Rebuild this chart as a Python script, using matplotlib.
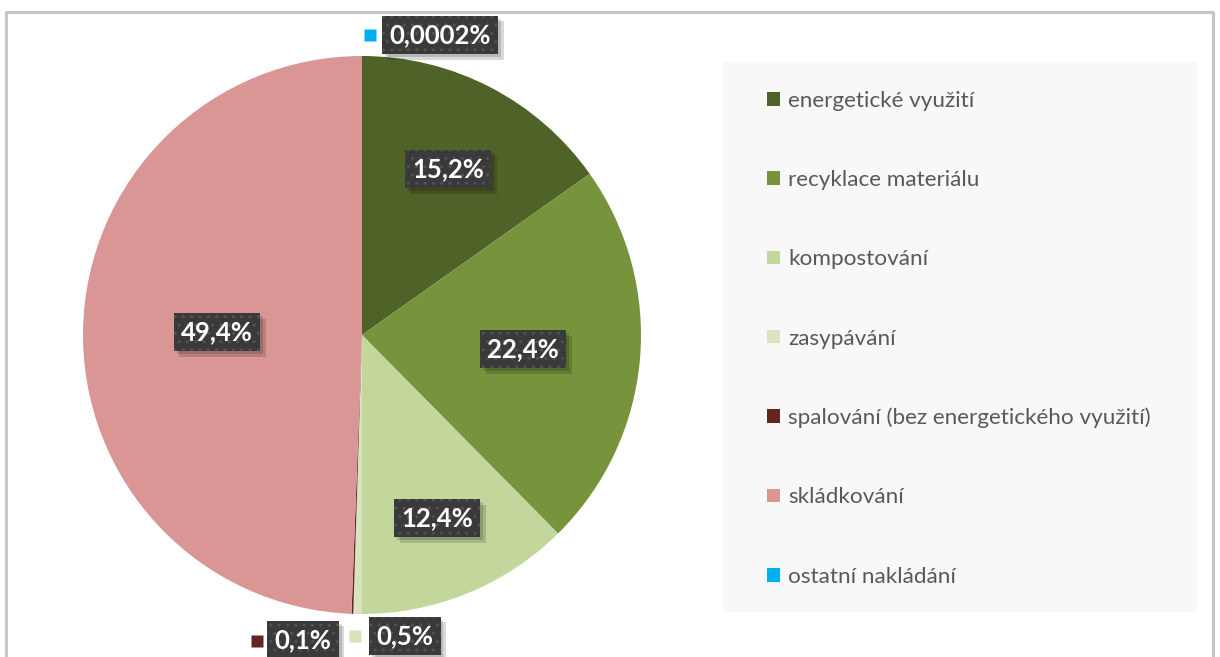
import matplotlib
matplotlib.use("Agg")
import matplotlib.pyplot as plt
from matplotlib.patches import Rectangle
from matplotlib.lines import Line2D
import matplotlib.patheffects as pe
import numpy as np

plt.rcParams['font.family'] = ['Lato', 'DejaVu Sans']

categories = ["energetické využití", "recyklace materiálu", "kompostování", "zasypávání",
              "spalování (bez energetického využití)", "skládkování", "ostatní nakládání"]
values = [15.2, 22.4, 12.4, 0.5, 0.1, 49.4, 0.0002]
value_labels = ["15,2%", "22,4%", "12,4%", "0,5%", "0,1%", "49,4%", "0,0002%"]
colors = ["#4f6228", "#77933c", "#c3d69b", "#d7e4bd", "#632523", "#d99694", "#00b0f0"]

W, H = 1220, 657
fig = plt.figure(figsize=(W / 100, H / 100), dpi=100)
fig.patch.set_facecolor("white")

# outer chart border (bottom cut off)
bc = "#c6c6c6"
fig.add_artist(Line2D([6 / W, 6 / W, 1213 / W, 1213 / W],
                      [0, 1 - 12 / H, 1 - 12 / H, 0], color=bc, lw=2.2,
                      transform=fig.transFigure))

# legend background
fig.add_artist(Rectangle((723 / W, 1 - 612 / H), 474 / W, 550 / H,
                         transform=fig.transFigure, fc="#f8f8f8", ec="none", zorder=0))

cx, cy, R = 362, 335, 279
ax = fig.add_axes([(cx - R) / W, (H - cy - R) / H, 2 * R / W, 2 * R / H])
wedges, _ = ax.pie(values, colors=colors, startangle=90, counterclock=False,
                   radius=1, wedgeprops=dict(linewidth=0))
ax.set_xlim(-1, 1)
ax.set_ylim(-1, 1)
ax.set_aspect("equal")
ax.axis("off")


class PlainShadow(pe.AbstractPathEffect):
    def __init__(self, offset=(3, -3), alpha=0.25):
        super().__init__(offset)
        self.alpha = alpha

    def draw_path(self, renderer, gc, tpath, affine, rgbFace):
        gc0 = renderer.new_gc()
        gc0.copy_properties(gc)
        gc0.set_hatch(None)
        gc0.set_linewidth(0)
        gc0.set_alpha(self.alpha)
        renderer.draw_path(gc0, tpath, affine + self._offset_transform(renderer),
                           (0, 0, 0))
        gc0.restore()


box_kw = dict(boxstyle="square,pad=0.28", fc="#3a3a3a", ec="#525252", lw=0, hatch="..")
fs = 18.5


def put_label(x, y, s):
    t = ax.text(x, y, s, ha="center", va="center", fontsize=fs, fontweight="bold",
                color="white", bbox=box_kw, zorder=5)
    t.get_bbox_patch().set_path_effects([PlainShadow((4, -4), 0.15),
                                         PlainShadow((2, -2), 0.15), pe.Normal()])


# inside labels: radial placement
total = sum(values)
inside = {0: 0.67, 1: 0.58, 2: 0.71, 5: 0.52}
cum = 0
mids = []
for v in values:
    mids.append(90 - 360 * (cum + v / 2) / total)
    cum += v
for i, rf in inside.items():
    a = np.deg2rad(mids[i])
    put_label(rf * np.cos(a), rf * np.sin(a), value_labels[i])

# outside labels with colour keys (layout offsets)
outside = {6: ((0.28, 1.075), (0.03, 1.075)),
           3: ((0.154, -1.079), (-0.025, -1.079)),
           4: ((-0.211, -1.093), (-0.376, -1.095))}
for i, ((tx, ty), (kx, ky)) in outside.items():
    put_label(tx, ty, value_labels[i])
    ax.plot([kx], [ky], marker="s", markersize=9, color=colors[i], mec="none",
            clip_on=False, zorder=5)

# legend
handles = [Rectangle((0, 0), 1, 1, fc=c, ec="none") for c in colors]
leg = fig.legend(handles, categories, loc="upper left",
                 bbox_to_anchor=(767 / W, 1 - 91 / H), frameon=False,
                 fontsize=16.2, labelspacing=2.63, handlelength=0.56, handleheight=0.56,
                 handletextpad=0.38, borderaxespad=0, borderpad=0)
for t in leg.get_texts():
    t.set_color("#595959")

fig.savefig("out.png", dpi=100, facecolor="white")
